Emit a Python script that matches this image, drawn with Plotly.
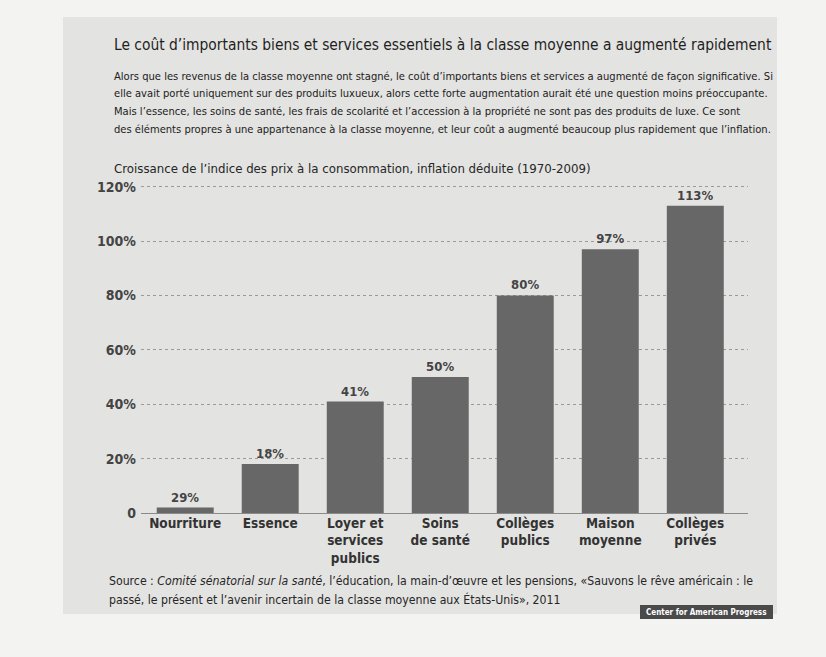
import plotly.graph_objects as go

# ---- data ----
categories = ["Nourriture", "Essence", "Loyer et<br>services<br>publics", "Soins<br>de santé",
              "Collèges<br>publics", "Maison<br>moyenne", "Collèges<br>privés"]
growth = [2, 18, 41, 50, 80, 97, 113]
growth_labels = ["29%", "18%", "41%", "50%", "80%", "97%", "113%"]
y_ticks = [0, 20, 40, 60, 80, 100, 120]
y_tick_text = ["0", "20%", "40%", "60%", "80%", "100%", "120%"]

title = "Le coût d’importants biens et services essentiels à la classe moyenne a augmenté rapidement"
paragraph = [
    "Alors que les revenus de la classe moyenne ont stagné, le coût d’importants biens et services a augmenté de façon significative. Si",
    "elle avait porté uniquement sur des produits luxueux, alors cette forte augmentation aurait été une question moins préoccupante.",
    "Mais l’essence, les soins de santé, les frais de scolarité et l’accession à la propriété ne sont pas des produits de luxe. Ce sont",
    "des éléments propres à une appartenance à la classe moyenne, et leur coût a augmenté beaucoup plus rapidement que l’inflation.",
]
subtitle = "Croissance de l’indice des prix à la consommation, inflation déduite (1970-2009)"
source = [
    "Source : <i>Comité sénatorial sur la santé</i>, l’éducation, la main-d’œuvre et les pensions, «Sauvons le rêve américain : le",
    "passé, le présent et l’avenir incertain de la classe moyenne aux États-Unis», 2011",
]
logo = "Center for American Progress"

# ---- layout geometry (pixels) ----
W, H = 826, 657
L, R, T, B = 141, 78, 184, 144
PW, PH = W - L - R, H - T - B

FONT = "DejaVu Sans Condensed, Liberation Sans Narrow, sans-serif"
TXT = "#333333"


def px(x):
    return (x - L) / PW


def py(y):
    return (H - B - y) / PH


fig = go.Figure()
fig.add_trace(go.Bar(
    x=list(range(len(categories))),
    y=growth,
    text=growth_labels,
    textposition="outside",
    textfont=dict(family=FONT, size=13, color="#444444", weight="bold"),
    marker=dict(color="#676767", line=dict(width=0)),
    width=0.67,
    cliponaxis=False,
))

# panel background
fig.add_shape(type="rect", xref="paper", yref="paper", layer="below",
              x0=px(63), x1=px(777), y0=py(614), y1=py(17),
              fillcolor="#e3e3e1", line=dict(width=0))
# logo box
fig.add_shape(type="rect", xref="paper", yref="paper",
              x0=px(640), x1=px(773), y0=py(619), y1=py(605),
              fillcolor="#4a4a4a", line=dict(width=0))

ann = []
ann.append(dict(text=title, x=px(112), y=py(45), font=dict(size=15.4, color="#1f1f1f")))
for i, line in enumerate(paragraph):
    ann.append(dict(text=line, x=px(112), y=py(76 + i * 17.7), font=dict(size=11.1, color="#1c1c1c")))
ann.append(dict(text=subtitle, x=px(112), y=py(168), font=dict(size=13.1, color="#262626")))
for i, line in enumerate(source):
    ann.append(dict(text=line, x=px(107), y=py(581 + i * 18), font=dict(size=12.2, color="#262626")))
ann.append(dict(text=logo, x=px(706), y=py(612), xanchor="center",
                font=dict(size=8, color="#ffffff", weight="bold")))
for a in ann:
    a.setdefault("xanchor", "left")
    a.update(xref="paper", yref="paper", yanchor="middle", showarrow=False)
    a["font"]["family"] = FONT

fig.update_layout(
    width=W, height=H,
    margin=dict(l=L, r=R, t=T, b=B),
    paper_bgcolor="#f3f3f1",
    plot_bgcolor="rgba(0,0,0,0)",
    showlegend=False,
    annotations=ann,
)
fig.update_xaxes(
    range=[-0.52, 6.62],
    tickvals=list(range(len(categories))),
    ticktext=categories,
    tickfont=dict(family=FONT, size=13.5, color=TXT, weight="bold"),
    showgrid=False, zeroline=False, showline=False, ticks="",
)
fig.update_yaxes(
    range=[0, 121],
    tickvals=y_ticks,
    ticktext=y_tick_text,
    tickfont=dict(family=FONT, size=14, color="#444444", weight="bold"),
    showgrid=True, gridcolor="#9a9a9a", gridwidth=1, griddash="dot",
    zeroline=True, zerolinecolor="#8a8a8a", zerolinewidth=1,
    ticks="", ticklabelstandoff=4,
)

# the page adds an 8px body margin; drop it so the figure sits at the corner
fig.write_html("out.html", config={"displayModeBar": False},
               post_script="document.body.style.margin='0';")
